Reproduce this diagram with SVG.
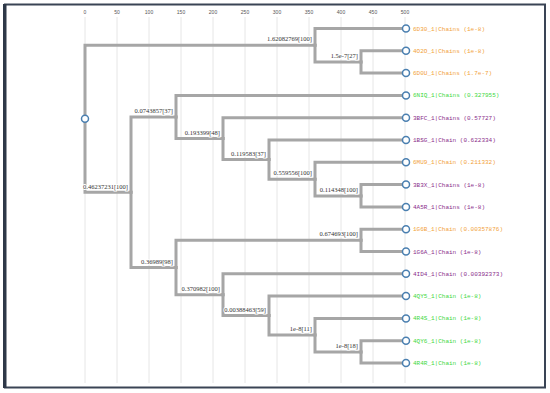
<svg xmlns="http://www.w3.org/2000/svg" width="550" height="393" viewBox="0 0 550 393">
<style>
.grid{stroke:#e6e6e6;stroke-width:1}
.tick{font-family:"Liberation Sans",Arial,sans-serif;font-size:5px;fill:#555;text-anchor:middle}
.edge{fill:none;stroke:#a6a6a6;stroke-width:3;stroke-linejoin:miter;stroke-linecap:square}
.bl{font-family:"Liberation Serif","Times New Roman",serif;font-size:6.5px;fill:#333;text-anchor:end;paint-order:stroke;stroke:#fff;stroke-width:2px}
.node{fill:#fff;stroke:#4a7fb0;stroke-width:1.5}
.leaf{font-family:"Liberation Mono","Courier New",monospace;font-size:6px}
.o{fill:#f2a23a}.g{fill:#3ed83e}.p{fill:#8a2d8a}
</style>
<rect x="0" y="0" width="550" height="393" fill="#fff"/>
<rect x="5" y="4.5" width="540" height="383" fill="none" stroke="#3a4455" stroke-width="2"/>
<rect x="3" y="4" width="3.5" height="384" fill="#2e3848"/>
<g id="axis">
<line class="grid" x1="85" y1="17" x2="85" y2="383"/>
<line class="grid" x1="117" y1="17" x2="117" y2="383"/>
<line class="grid" x1="149" y1="17" x2="149" y2="383"/>
<line class="grid" x1="181" y1="17" x2="181" y2="383"/>
<line class="grid" x1="213" y1="17" x2="213" y2="383"/>
<line class="grid" x1="245" y1="17" x2="245" y2="383"/>
<line class="grid" x1="277" y1="17" x2="277" y2="383"/>
<line class="grid" x1="309" y1="17" x2="309" y2="383"/>
<line class="grid" x1="341" y1="17" x2="341" y2="383"/>
<line class="grid" x1="373" y1="17" x2="373" y2="383"/>
<line class="grid" x1="405" y1="17" x2="405" y2="383"/>
<text class="tick" x="85" y="14">0</text>
<text class="tick" x="117" y="14">50</text>
<text class="tick" x="149" y="14">100</text>
<text class="tick" x="181" y="14">150</text>
<text class="tick" x="213" y="14">200</text>
<text class="tick" x="245" y="14">250</text>
<text class="tick" x="277" y="14">300</text>
<text class="tick" x="309" y="14">350</text>
<text class="tick" x="341" y="14">400</text>
<text class="tick" x="373" y="14">450</text>
<text class="tick" x="405" y="14">500</text>
</g>
<g id="connectors">
<path class="edge" d="M85 118.7V45.2H315"/>
<path class="edge" d="M85 118.7V192.3H131"/>
<path class="edge" d="M315 45.2V28.5H406"/>
<path class="edge" d="M315 45.2V62H361"/>
<path class="edge" d="M361 62V50.8H406"/>
<path class="edge" d="M361 62V73.1H406"/>
<path class="edge" d="M131 192.3V117H176"/>
<path class="edge" d="M131 192.3V267.5H176"/>
<path class="edge" d="M176 117V95.4H406"/>
<path class="edge" d="M176 117V138.6H223"/>
<path class="edge" d="M223 138.6V117.7H406"/>
<path class="edge" d="M223 138.6V159.6H269"/>
<path class="edge" d="M269 159.6V140H406"/>
<path class="edge" d="M269 159.6V179.2H315"/>
<path class="edge" d="M315 179.2V162.3H406"/>
<path class="edge" d="M315 179.2V196H361"/>
<path class="edge" d="M361 196V184.6H406"/>
<path class="edge" d="M361 196V206.9H406"/>
<path class="edge" d="M176 267.5V240.3H361"/>
<path class="edge" d="M361 240.3V229.2H406"/>
<path class="edge" d="M361 240.3V251.5H406"/>
<path class="edge" d="M176 267.5V294.7H223"/>
<path class="edge" d="M223 294.7V273.8H406"/>
<path class="edge" d="M223 294.7V315.6H269"/>
<path class="edge" d="M269 315.6V296.1H406"/>
<path class="edge" d="M269 315.6V335.1H315"/>
<path class="edge" d="M315 335.1V318.4H406"/>
<path class="edge" d="M315 335.1V351.9H361"/>
<path class="edge" d="M361 351.9V340.7H406"/>
<path class="edge" d="M361 351.9V363H406"/>
</g>
<g id="branch-labels">
<text class="bl" x="312" y="41">1.62082769[100]</text>
<text class="bl" x="358" y="58">1.5e-7[27]</text>
<text class="bl" x="128" y="188.5">0.46237231[100]</text>
<text class="bl" x="173" y="113">0.0743857[37]</text>
<text class="bl" x="220" y="134.5">0.193399[48]</text>
<text class="bl" x="266" y="155.5">0.119583[37]</text>
<text class="bl" x="312" y="175">0.559556[100]</text>
<text class="bl" x="358" y="192">0.114348[100]</text>
<text class="bl" x="173" y="263.5">0.36989[98]</text>
<text class="bl" x="358" y="236">0.674693[100]</text>
<text class="bl" x="220" y="290.5">0.370982[100]</text>
<text class="bl" x="266" y="311.5">0.00388463[59]</text>
<text class="bl" x="312" y="331">1e-8[11]</text>
<text class="bl" x="358" y="348">1e-8[18]</text>
</g>
<g id="root"><circle class="node" cx="85" cy="118.7" r="3.5"/></g>
<g id="leaf-6D30"><circle class="node" cx="406" cy="28.5" r="3.5"/><text class="leaf o" x="413" y="30.5">6D30_1|Chains (1e-8)</text></g>
<g id="leaf-4O2O"><circle class="node" cx="406" cy="50.8" r="3.5"/><text class="leaf o" x="413" y="52.8">4O2O_1|Chains (1e-8)</text></g>
<g id="leaf-6D0U"><circle class="node" cx="406" cy="73.1" r="3.5"/><text class="leaf o" x="413" y="75.1">6D0U_1|Chains (1.7e-7)</text></g>
<g id="leaf-6NIQ"><circle class="node" cx="406" cy="95.4" r="3.5"/><text class="leaf g" x="413" y="97.4">6NIQ_1|Chains (0.327955)</text></g>
<g id="leaf-3BFC"><circle class="node" cx="406" cy="117.7" r="3.5"/><text class="leaf p" x="413" y="119.7">3BFC_1|Chains (0.57727)</text></g>
<g id="leaf-1BSG"><circle class="node" cx="406" cy="140" r="3.5"/><text class="leaf p" x="413" y="142">1BSG_1|Chain (0.622334)</text></g>
<g id="leaf-6MU9"><circle class="node" cx="406" cy="162.3" r="3.5"/><text class="leaf o" x="413" y="164.3">6MU9_1|Chain (0.211332)</text></g>
<g id="leaf-3B3X"><circle class="node" cx="406" cy="184.6" r="3.5"/><text class="leaf p" x="413" y="186.6">3B3X_1|Chains (1e-8)</text></g>
<g id="leaf-4A5R"><circle class="node" cx="406" cy="206.9" r="3.5"/><text class="leaf p" x="413" y="208.9">4A5R_1|Chains (1e-8)</text></g>
<g id="leaf-1G6B"><circle class="node" cx="406" cy="229.2" r="3.5"/><text class="leaf o" x="413" y="231.2">1G6B_1|Chain (0.00357876)</text></g>
<g id="leaf-1G6A"><circle class="node" cx="406" cy="251.5" r="3.5"/><text class="leaf p" x="413" y="253.5">1G6A_1|Chain (1e-8)</text></g>
<g id="leaf-4ID4"><circle class="node" cx="406" cy="273.8" r="3.5"/><text class="leaf p" x="413" y="275.8">4ID4_1|Chain (0.00392373)</text></g>
<g id="leaf-4QY5"><circle class="node" cx="406" cy="296.1" r="3.5"/><text class="leaf g" x="413" y="298.1">4QY5_1|Chain (1e-8)</text></g>
<g id="leaf-4R4S"><circle class="node" cx="406" cy="318.4" r="3.5"/><text class="leaf g" x="413" y="320.4">4R4S_1|Chain (1e-8)</text></g>
<g id="leaf-4QY6"><circle class="node" cx="406" cy="340.7" r="3.5"/><text class="leaf g" x="413" y="342.7">4QY6_1|Chain (1e-8)</text></g>
<g id="leaf-4R4R"><circle class="node" cx="406" cy="363" r="3.5"/><text class="leaf g" x="413" y="365">4R4R_1|Chain (1e-8)</text></g>
</svg>
